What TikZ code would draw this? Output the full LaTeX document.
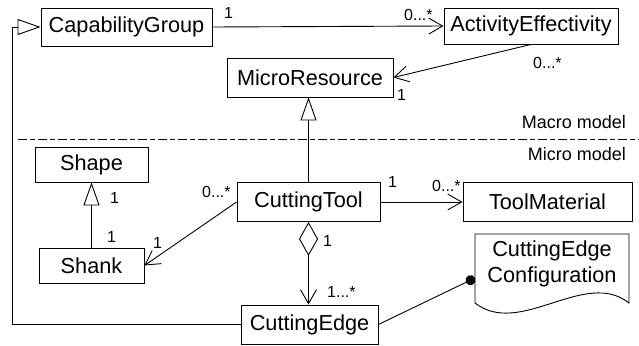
\documentclass[tikz,border=0pt]{standalone}
\usepackage{fontspec}
\setmainfont{Liberation Sans}
\usetikzlibrary{arrows.meta}
\begin{document}
\begin{tikzpicture}[x=1pt,y=-1pt,
  every node/.style={inner sep=0pt},
  cls/.style={draw, line width=0.9pt, font=\fontsize{21.7pt}{26pt}\selectfont},
  lbl/.style={font=\fontsize{16pt}{18pt}\selectfont, anchor=base west},
  mdl/.style={font=\fontsize{18pt}{20pt}\selectfont, anchor=base east},
  conn/.style={line width=0.9pt},
  assoc/.style={conn, -{Straight Barb[length=14pt,width=16pt]}},
  gen/.style={conn, -{Triangle[open,length=23pt,width=16pt]}},
  aggr/.style={conn, {Diamond[open,length=34pt,width=19pt]}-{Straight Barb[length=14pt,width=16pt]}},
  dotend/.style={conn, -{Circle[length=10pt]}}]
\useasboundingbox (0,0) rectangle (639,345);

% classes
\node[cls, minimum width=171pt, minimum height=38pt] (cg) at (126.5,27) {CapabilityGroup};
\node[cls, minimum width=174pt, minimum height=36pt] (ae) at (531,26) {ActivityEffectivity};
\node[cls, minimum width=166pt, minimum height=39pt] (mr) at (310,77.5) {MicroResource};
\node[cls, minimum width=113pt, minimum height=35pt] (sp) at (91.5,164.5) {Shape};
\node[cls, minimum width=105pt, minimum height=35pt] (sh) at (91.5,265.5) {Shank};
\node[cls, minimum width=143pt, minimum height=39pt] (ct) at (308.5,202) {CuttingTool};
\node[cls, minimum width=169pt, minimum height=39pt] (tm) at (547.5,202) {ToolMaterial};
\node[cls, minimum width=137pt, minimum height=39pt] (ce) at (309.5,324.5) {CuttingEdge};

% note with wavy lower edge
\draw[conn] (475,303) -- (475,234) -- (629,234) -- (629,303)
  .. controls (585,268) and (520,338) .. (475,303) -- cycle;
\node[font=\fontsize{21.7pt}{25.5pt}\selectfont, align=center] (cec) at (552,264) {CuttingEdge\\Configuration};
\coordinate (dot) at (475,278);

% macro / micro separation
\coordinate (sepl) at (18,139);
\coordinate (sepr) at (639,139);
\draw[conn, dash pattern=on 9pt off 3pt on 5pt off 3pt] (sepl) -- (sepr);
\node[mdl] (macro) at (626,128) {Macro model};
\node[mdl] (micro) at (626,160) {Micro model};

% connectors
\coordinate (lx) at (12,0);
\draw[assoc] (cg.east) -- (ae.west);
\draw[assoc] (ae.south) -- (mr.east);
\draw[gen] (ct.north) -- (ct.north |- mr.south);
\draw[gen] (sh.north) -- (sh.north |- sp.south);
\draw[assoc] (ct.east) -- (tm.west);
\draw[assoc] (ct.west) -- (sh.east);
\draw[aggr] (ct.south) -- (ct.south |- ce.north);
\draw[gen] (ce.west) -- (ce.west -| lx) -- (cg.west -| lx) -- (cg.west);
\draw[dotend] (ce.east) -- (dot);

% multiplicities
\node[lbl] (m1) at (224,18.5) {1};
\node[lbl] (m2) at (404,21) {0...*};
\node[lbl] (m3) at (533,68) {0...*};
\node[lbl] (m4) at (397,100) {1};
\node[lbl] (m5) at (110,203) {1};
\node[lbl] (m6) at (107,242) {1};
\node[lbl] (m7) at (202,197) {0...*};
\node[lbl] (m8) at (153,248) {1};
\node[lbl] (m9) at (388,187) {1};
\node[lbl] (m10) at (432,191) {0...*};
\node[lbl] (m11) at (323,246) {1};
\node[lbl] (m12) at (327,297) {1...*};
\end{tikzpicture}
\end{document}
